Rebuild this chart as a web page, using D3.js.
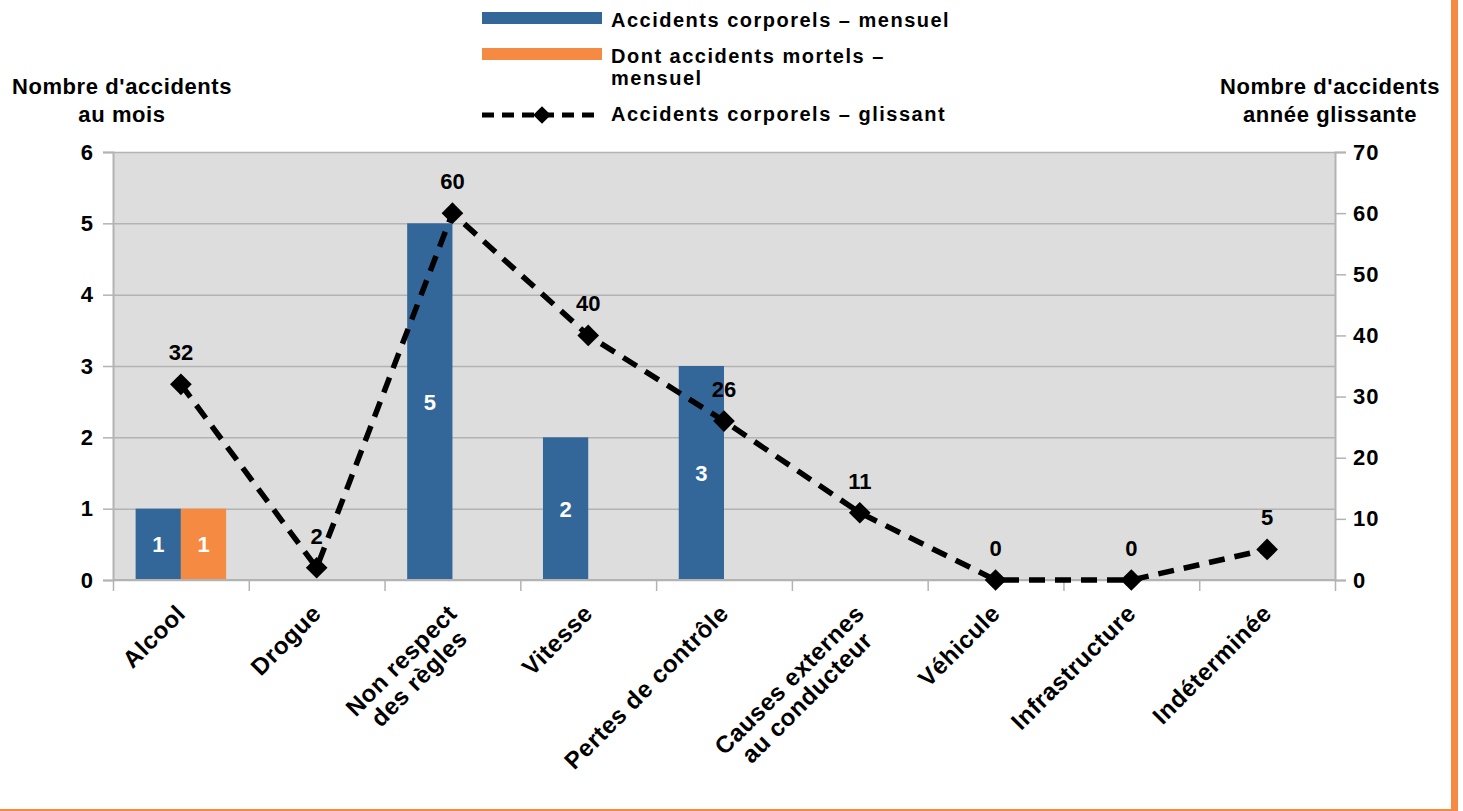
<!DOCTYPE html>
<html>
<head>
<meta charset="utf-8">
<script src="https://cdn.jsdelivr.net/npm/d3@7"></script>
<style>
  body { margin: 0; background: #fff; }
  svg { display: block; }
  text { font-family: "Liberation Sans", Arial, sans-serif; font-weight: bold; fill: #000; }
</style>
</head>
<body>
<svg id="chart" width="1463" height="811"></svg>
<script>
// data
var categories = [["Alcool"], ["Drogue"], ["Non respect", "des règles"], ["Vitesse"],
    ["Pertes de contrôle"], ["Causes externes", "au conducteur"], ["Véhicule"],
    ["Infrastructure"], ["Indéterminée"]];
var corporelsMensuel = [1, 0, 5, 2, 3, 0, 0, 0, 0];
var mortelsMensuel = [1, 0, 0, 0, 0, 0, 0, 0, 0];
var corporelsGlissant = [32, 2, 60, 40, 26, 11, 0, 0, 5];
var leftTicks = [0, 1, 2, 3, 4, 5, 6];
var rightTicks = [0, 10, 20, 30, 40, 50, 60, 70];
var seriesNames = ["Accidents corporels – mensuel", "Dont accidents mortels –", "mensuel", "Accidents corporels – glissant"];

var blue = "#33679a", orange = "#f58b42", grid = "#b3b3b3";

var svg = d3.select("#chart");
var plotLeft = 113, plotRight = 1335, plotTop = 152, plotBottom = 580;

var x = d3.scaleBand().domain(d3.range(categories.length)).range([plotLeft, plotRight]);
var xEdge = d3.scaleLinear().domain([0, categories.length]).range([plotLeft, plotRight]);
var bw = x.bandwidth();
var xSub = d3.scaleBand().domain(["c", "m"]).range([bw / 6, bw * 5 / 6]);
var yL = d3.scaleLinear().domain([0, 6]).range([plotBottom, plotTop]);
var yR = d3.scaleLinear().domain([0, 70]).range([plotBottom, plotTop]);

// outer frame (orange)
svg.append("rect").attr("x", 1451).attr("y", 0).attr("width", 7).attr("height", 811).attr("fill", orange);
svg.append("rect").attr("x", 0).attr("y", 809).attr("width", 1451).attr("height", 2).attr("fill", orange);

// plot background
svg.append("rect").attr("x", plotLeft).attr("y", plotTop)
    .attr("width", plotRight - plotLeft).attr("height", plotBottom - plotTop)
    .attr("fill", "#dddddd");

// gridlines
svg.append("g").attr("transform", "translate(" + plotLeft + ",0)")
    .call(d3.axisLeft(yL).tickValues(leftTicks).tickSize(-(plotRight - plotLeft)).tickFormat(""))
    .call(function (g) { g.select(".domain").remove(); })
    .selectAll("line").attr("stroke", grid).attr("stroke-width", 1.5);

// bars
svg.append("g").selectAll("rect").data(corporelsMensuel).enter().append("rect")
    .attr("x", function (d, i) { return x(i) + xSub("c"); })
    .attr("y", function (d) { return yL(d); })
    .attr("width", xSub.bandwidth())
    .attr("height", function (d) { return plotBottom - yL(d); })
    .attr("fill", blue);
svg.append("g").selectAll("rect").data(mortelsMensuel).enter().append("rect")
    .attr("x", function (d, i) { return x(i) + xSub("m"); })
    .attr("y", function (d) { return yL(d); })
    .attr("width", xSub.bandwidth())
    .attr("height", function (d) { return plotBottom - yL(d); })
    .attr("fill", orange);

// bar labels (white, centred in the bar)
function barLabels(data, key) {
    data.forEach(function (d, i) {
        if (d > 0) {
            svg.append("text")
                .attr("x", x(i) + xSub(key) + xSub.bandwidth() / 2)
                .attr("y", (yL(d) + plotBottom) / 2 + 8)
                .attr("text-anchor", "middle").style("font-size", "22px").style("fill", "#fff")
                .text(d);
        }
    });
}
barLabels(corporelsMensuel, "c");
barLabels(mortelsMensuel, "m");

// axes
var axL = svg.append("g").attr("transform", "translate(" + plotLeft + ",0)")
    .call(d3.axisLeft(yL).tickValues(leftTicks).tickFormat(d3.format("d")).tickSize(10).tickPadding(9));
var axR = svg.append("g").attr("transform", "translate(" + plotRight + ",0)")
    .call(d3.axisRight(yR).tickValues(rightTicks).tickFormat(d3.format("d")).tickSize(11).tickPadding(7));
var axB = svg.append("g").attr("transform", "translate(0," + plotBottom + ")")
    .call(d3.axisBottom(xEdge).tickValues(d3.range(categories.length + 1)).tickSize(11).tickFormat(""));
[axL, axR, axB].forEach(function (g) {
    g.attr("font-family", null).attr("font-size", null);
    g.select(".domain").attr("stroke", grid).attr("stroke-width", 2);
    g.selectAll(".tick line").attr("stroke", grid).attr("stroke-width", 1.5);
    g.selectAll(".tick text").style("font-size", "22px").style("letter-spacing", "1px").attr("fill", "#000");
});
axB.select(".domain").attr("d", "M" + plotLeft + ",0H" + plotRight);

// category labels, rotated 45 degrees
categories.forEach(function (lines, i) {
    var ax = x(i) + bw / 2 + 6, ay = 615;
    var g = svg.append("g").attr("transform", "translate(" + ax + "," + ay + ") rotate(-45)");
    var texts = lines.map(function (s, k) {
        return g.append("text").attr("y", k * 25).attr("text-anchor", "end")
            .style("font-size", "24px").style("letter-spacing", "0.6px").text(s);
    });
    var lens = texts.map(function (t) { return t.node().getComputedTextLength(); });
    var maxLen = d3.max(lens);
    texts.forEach(function (t, k) { t.attr("x", -(maxLen - lens[k]) / 2); });
});

// line series (right axis)
var line = d3.line()
    .x(function (d, i) { return x(i) + bw / 2; })
    .y(function (d) { return yR(d); });
svg.append("path").datum(corporelsGlissant).attr("d", line)
    .attr("fill", "none").attr("stroke", "#000").attr("stroke-width", 5.5).attr("stroke-dasharray", "16,10");
var diamond = d3.symbol().type(d3.symbolDiamond2).size(300);
svg.append("g").selectAll("path").data(corporelsGlissant).enter().append("path")
    .attr("transform", function (d, i) { return "translate(" + (x(i) + bw / 2) + "," + yR(d) + ")"; })
    .attr("d", diamond).attr("fill", "#000");
svg.append("g").selectAll("text").data(corporelsGlissant).enter().append("text")
    .attr("x", function (d, i) { return x(i) + bw / 2; })
    .attr("y", function (d) { return yR(d) - 24; })
    .attr("text-anchor", "middle").style("font-size", "22px").text(function (d) { return d; });

// axis titles
function title(cx, lines) {
    lines.forEach(function (s, k) {
        svg.append("text").attr("x", cx).attr("y", 94 + k * 27.5).attr("text-anchor", "middle")
            .style("font-size", "22px").style("letter-spacing", "0.6px").text(s);
    });
}
title(122, ["Nombre d'accidents", "au mois"]);
title(1330, ["Nombre d'accidents", "année glissante"]);

// legend
var lg = svg.append("g");
lg.append("rect").attr("x", 482).attr("y", 12).attr("width", 120).attr("height", 12).attr("fill", blue);
lg.append("rect").attr("x", 482).attr("y", 48).attr("width", 120).attr("height", 12).attr("fill", orange);
lg.append("line").attr("x1", 482).attr("x2", 602).attr("y1", 115).attr("y2", 115)
    .attr("stroke", "#000").attr("stroke-width", 5).attr("stroke-dasharray", "12,8");
lg.append("path").attr("transform", "translate(542,115)").attr("d", d3.symbol().type(d3.symbolDiamond2).size(200)).attr("fill", "#000");
[[seriesNames[0], 27], [seriesNames[1], 63], [seriesNames[2], 85], [seriesNames[3], 121]].forEach(function (r) {
    lg.append("text").attr("x", 611).attr("y", r[1]).style("font-size", "20px").style("letter-spacing", "1.5px").text(r[0]);
});
</script>
</body>
</html>
